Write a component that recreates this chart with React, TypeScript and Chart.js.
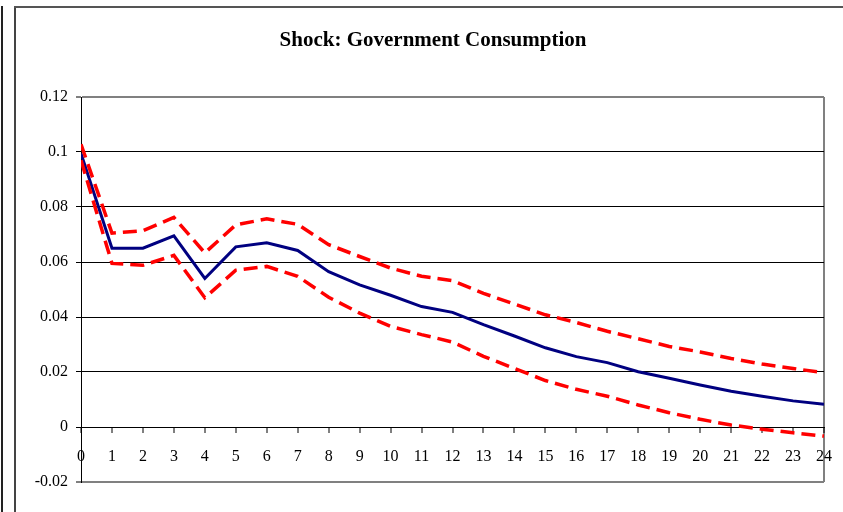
import React, { useEffect, useRef } from "react";
import { Chart, registerables } from "chart.js";

Chart.register(...registerables);

const periods = [0, 1, 2, 3, 4, 5, 6, 7, 8, 9, 10, 11, 12, 13, 14, 15, 16, 17, 18, 19, 20, 21, 22, 23, 24];
const meanResponse = [0.0995, 0.065, 0.065, 0.0695, 0.054, 0.0655, 0.067, 0.0642, 0.0565, 0.0517, 0.0479, 0.0438, 0.0417, 0.0372, 0.0331, 0.0288, 0.0256, 0.0234, 0.0201, 0.0177, 0.0153, 0.013, 0.0112, 0.0095, 0.0083];
const upperBand = [0.1028, 0.0705, 0.0714, 0.0762, 0.0633, 0.0735, 0.0757, 0.0737, 0.0663, 0.062, 0.0578, 0.0548, 0.0532, 0.0486, 0.0447, 0.0408, 0.038, 0.0348, 0.0321, 0.0293, 0.0273, 0.0249, 0.0229, 0.0213, 0.0197];
const lowerBand = [0.097, 0.0595, 0.0588, 0.0624, 0.047, 0.057, 0.0584, 0.0548, 0.0472, 0.0414, 0.0366, 0.0336, 0.0309, 0.0257, 0.0213, 0.0169, 0.0137, 0.0112, 0.008, 0.0052, 0.0028, 0.0007, -0.0008, -0.0021, -0.0033];
const yTicks = [-0.02, 0, 0.02, 0.04, 0.06, 0.08, 0.1, 0.12];
const titleText = "Shock: Government Consumption";

const FONT = "'Liberation Serif', 'DejaVu Serif', serif";

export default function App() {
  const canvasRef = useRef<HTMLCanvasElement | null>(null);

  useEffect(() => {
    document.body.style.margin = "0";
    const canvas = canvasRef.current;
    if (!canvas) return;
    const toXY = (arr: number[]) => arr.map((v, i) => ({ x: periods[i], y: v }));
    const chart = new Chart(canvas, {
      type: "line",
      data: {
        datasets: [
          {
            label: "Upper",
            data: toXY(upperBand),
            borderColor: "#ff0000",
            borderWidth: 3.5,
            borderDash: [14, 7],
            pointRadius: 0,
            tension: 0,
            fill: false,
          },
          {
            label: "Lower",
            data: toXY(lowerBand),
            borderColor: "#ff0000",
            borderWidth: 3.5,
            borderDash: [14, 7],
            pointRadius: 0,
            tension: 0,
            fill: false,
          },
          {
            label: "Response",
            data: toXY(meanResponse),
            borderColor: "#000080",
            borderWidth: 3,
            pointRadius: 0,
            tension: 0,
            fill: false,
          },
        ],
      },
      options: {
        responsive: false,
        animation: false,
        layout: { padding: { left: 0, right: 19, top: 97, bottom: 30 } },
        plugins: {
          legend: { display: false },
          tooltip: { enabled: false },
          title: { display: false },
        },
        scales: {
          x: {
            type: "linear",
            min: periods[0],
            max: periods[periods.length - 1],
            position: { y: 0 },
            afterFit: (scale: any) => {
              scale.height = 0;
              scale.paddingLeft = 0;
              scale.paddingRight = 0;
            },
            afterBuildTicks: (scale: any) => {
              scale.ticks = periods.map((p) => ({ value: p }));
            },
            ticks: {
              color: "#000",
              font: { family: FONT, size: 16 },
              padding: 15,
              maxRotation: 0,
              autoSkip: false,
              callback: (v: any) => String(v),
            },
            grid: {
              drawOnChartArea: true,
              color: (ctx: any) => (ctx.index === periods.length - 1 ? "#808080" : "rgba(0,0,0,0)"),
              lineWidth: 2,
              tickLength: 5,
              tickColor: "#000",
              tickWidth: 1,
            },
            border: { color: "#000", width: 1 },
          },
          y: {
            type: "linear",
            min: yTicks[0],
            max: yTicks[yTicks.length - 1],
            afterFit: (scale: any) => {
              scale.width = 81;
              scale.paddingTop = 0;
              scale.paddingBottom = 0;
            },
            afterBuildTicks: (scale: any) => {
              scale.ticks = yTicks.map((v) => ({ value: v }));
            },
            ticks: {
              color: "#000",
              font: { family: FONT, size: 16 },
              padding: 8,
              callback: (v: any) => String(Math.round(Number(v) * 100) / 100),
            },
            grid: {
              color: (ctx: any) =>
                ctx.index === 0 || ctx.index === yTicks.length - 1 ? "#808080" : "#000",
              lineWidth: (ctx: any) => (ctx.index === 0 || ctx.index === yTicks.length - 1 ? 2 : 1),
              tickLength: 5,
              tickColor: "#000",
              tickWidth: 1,
            },
            border: { color: "#000", width: 1 },
          },
        },
      },
    });
    return () => chart.destroy();
  }, []);

  return (
    <div style={{ position: "relative", width: 843, height: 512, background: "#fff", overflow: "hidden" }}>
      <canvas ref={canvasRef} width={843} height={512} style={{ position: "absolute", left: 0, top: 0 }} />
      <div
        style={{
          position: "absolute",
          left: 0,
          top: 27,
          width: 866,
          textAlign: "center",
          fontFamily: FONT,
          fontWeight: "bold",
          fontSize: 21,
          lineHeight: "24px",
          color: "#000",
          whiteSpace: "nowrap",
        }}
      >
        {titleText}
      </div>
      <div style={{ position: "absolute", left: 1, top: 6, width: 2, height: 506, background: "#222" }} />
      <div style={{ position: "absolute", left: 14, top: 6, width: 2, height: 506, background: "#444" }} />
      <div style={{ position: "absolute", left: 14, top: 6, width: 829, height: 2, background: "#555" }} />
    </div>
  );
}
